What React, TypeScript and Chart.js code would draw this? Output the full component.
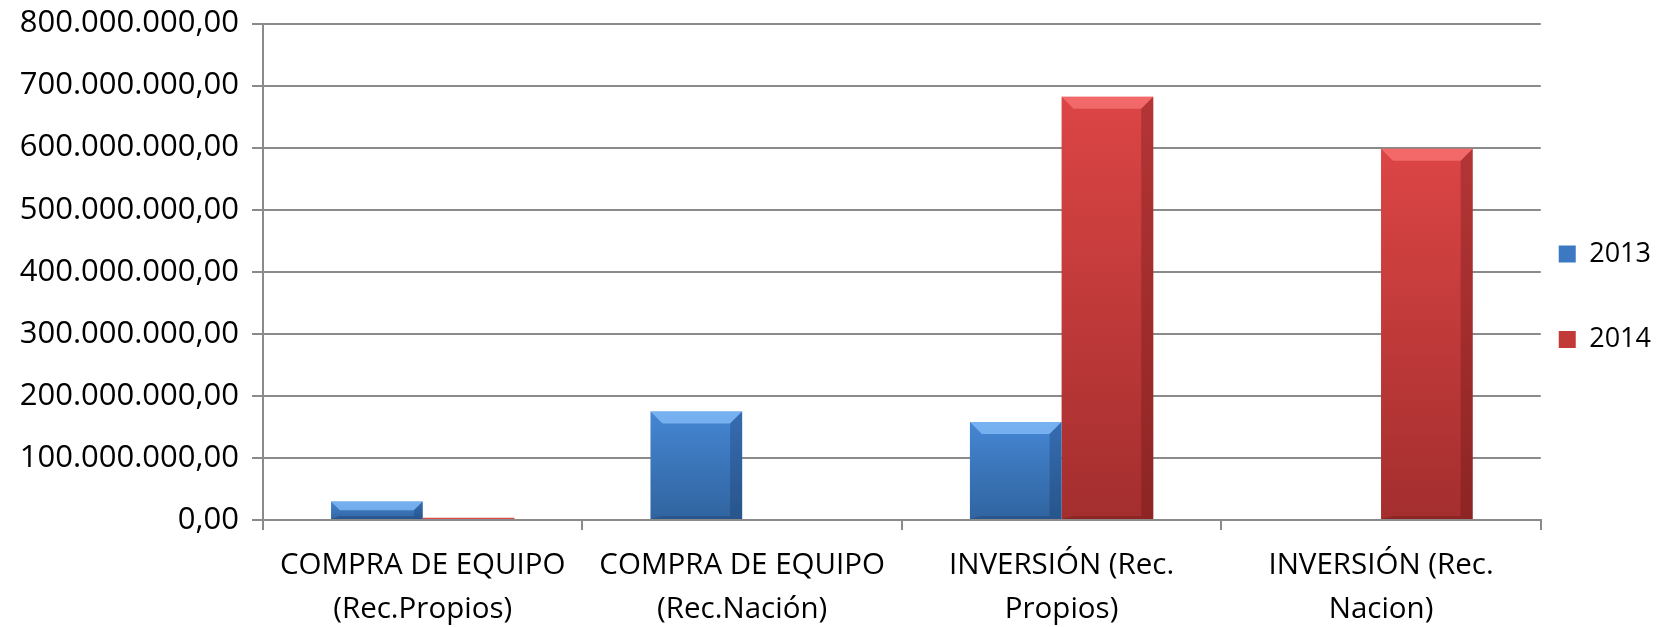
import React, { useEffect, useRef } from 'react';
import { Chart, registerables } from 'chart.js';

Chart.register(...registerables);

// ---- data ----
const categories: string[][] = [
  ['COMPRA DE EQUIPO', '(Rec.Propios)'],
  ['COMPRA DE EQUIPO', '(Rec.Nación)'],
  ['INVERSIÓN (Rec.', 'Propios)'],
  ['INVERSIÓN (Rec.', 'Nacion)'],
];
const seriesNames = ['2013', '2014'];
const values2013 = [30000000, 175000000, 158000000, 0];
const values2014 = [3500000, 0, 682000000, 598000000];
const yMin = 0;
const yMax = 800000000;
const yStep = 100000000;

// ---- styles ----
const FONT = "'Open Sans', 'DejaVu Sans', sans-serif";
const GRID = '#8a8a8a';
const bodyTop = ['#4586d3', '#dc4545'];
const bodyBottom = ['#30649f', '#a42e2e'];
const thinColor = ['#3d79c2', '#d84a4a'];
const bevelLight = ['rgba(140,195,255,0.7)', 'rgba(255,125,125,0.65)'];
const bevelDark = ['rgba(20,50,95,0.3)', 'rgba(90,15,15,0.3)'];
const legendFill = ['#3d79c2', '#c23a38'];

function fmt(v: number): string {
  const s = Math.round(v).toString().replace(/\B(?=(\d{3})+(?!\d))/g, '.');
  return s + ',00';
}

const bevelPlugin = {
  id: 'bevel',
  afterDatasetsDraw(chart: any) {
    const ctx = chart.ctx;
    chart.data.datasets.forEach((_ds: any, di: number) => {
      const meta = chart.getDatasetMeta(di);
      meta.data.forEach((el: any) => {
        const { x, y, base, width } = el.getProps(['x', 'y', 'base', 'width'], true);
        const left = x - width / 2;
        const right = x + width / 2;
        const h = base - y;
        if (h < 6) return;
        const b = Math.min(12, h / 2);
        const bb = Math.min(3, b);
        ctx.save();
        ctx.fillStyle = bevelLight[di];
        ctx.beginPath();
        ctx.moveTo(left, y);
        ctx.lineTo(right, y);
        ctx.lineTo(right - b, y + b);
        ctx.lineTo(left + b, y + b);
        ctx.closePath();
        ctx.fill();
        ctx.fillStyle = bevelDark[di];
        ctx.beginPath();
        ctx.moveTo(right, y);
        ctx.lineTo(right, base);
        ctx.lineTo(right - b, base - bb);
        ctx.lineTo(right - b, y + b);
        ctx.closePath();
        ctx.fill();
        ctx.beginPath();
        ctx.moveTo(left, base);
        ctx.lineTo(right, base);
        ctx.lineTo(right - b, base - bb);
        ctx.lineTo(left + b, base - bb);
        ctx.closePath();
        ctx.fill();
        ctx.restore();
      });
    });
  },
};

function barGradient(di: number) {
  return (c: any) => {
    const chart = c.chart;
    const { chartArea, scales } = chart;
    if (!chartArea || !scales.y || c.type !== 'data') return bodyTop[di];
    const v = c.raw as number;
    const top = scales.y.getPixelForValue(v);
    const bottom = scales.y.getPixelForValue(0);
    if (bottom - top < 6) return thinColor[di];
    const g = chart.ctx.createLinearGradient(0, top, 0, bottom);
    g.addColorStop(0, bodyTop[di]);
    g.addColorStop(1, bodyBottom[di]);
    return g;
  };
}

export default function App() {
  const ref = useRef<HTMLCanvasElement | null>(null);

  useEffect(() => {
    if (!ref.current) return;
    const chart = new Chart(ref.current, {
      type: 'bar',
      data: {
        labels: categories as any,
        datasets: [
          {
            label: seriesNames[0],
            data: values2013,
            backgroundColor: barGradient(0) as any,
            borderWidth: 0,
            categoryPercentage: 0.574,
            barPercentage: 1,
          },
          {
            label: seriesNames[1],
            data: values2014,
            backgroundColor: barGradient(1) as any,
            borderWidth: 0,
            categoryPercentage: 0.574,
            barPercentage: 1,
          },
        ],
      },
      options: {
        responsive: false,
        animation: false,
        devicePixelRatio: 1,
        layout: { padding: { top: 7, bottom: 0, left: 0, right: 0 } },
        plugins: {
          tooltip: { enabled: false },
          legend: {
            position: 'right',
            maxWidth: 121,
            labels: {
              boxWidth: 17,
              boxHeight: 17,
              padding: 18,
              color: '#000',
              font: { family: FONT, size: 27, lineHeight: 1.248 },
              generateLabels: (ch: any) =>
                ch.data.datasets.map((ds: any, i: number) => ({
                  text: [ds.label, ''],
                  fillStyle: legendFill[i],
                  strokeStyle: legendFill[i],
                  lineWidth: 0,
                  hidden: false,
                  datasetIndex: i,
                  fontColor: '#000',
                })),
            },
          },
        },
        scales: {
          x: {
            afterFit: (s: any) => {
              s.height = 107;
            },
            grid: {
              display: true,
              drawOnChartArea: false,
              drawTicks: true,
              tickLength: 10,
              color: GRID,
              lineWidth: 2,
            },
            border: { display: true, color: GRID, width: 2 },
            ticks: {
              color: '#000',
              padding: 13,
              maxRotation: 0,
              autoSkip: false,
              font: { family: FONT, size: 29.5, lineHeight: 1.5 },
            },
          },
          y: {
            min: yMin,
            max: yMax,
            afterFit: (s: any) => {
              s.width = 263;
              s.paddingTop = 23.5;
              s.paddingBottom = 0;
            },
            grid: {
              color: GRID,
              lineWidth: 2,
              drawTicks: true,
              tickLength: 11,
            },
            border: { display: true, color: GRID, width: 2 },
            ticks: {
              stepSize: yStep,
              color: '#000',
              padding: 13,
              font: { family: FONT, size: 31, lineHeight: 1.2 },
              callback: (v: any) => fmt(Number(v)),
            },
          },
        },
      },
      plugins: [bevelPlugin],
    });
    return () => chart.destroy();
  }, []);

  return (
    <div style={{ position: 'fixed', left: 0, top: 0, width: 1661, height: 627, background: '#fff' }}>
      <canvas ref={ref} width={1661} height={627} style={{ display: 'block' }} />
    </div>
  );
}
